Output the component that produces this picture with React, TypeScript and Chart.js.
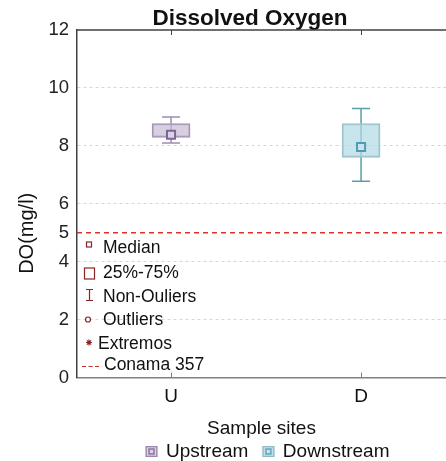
import React, { useEffect, useRef } from "react";
import { Chart, registerables } from "chart.js";
Chart.register(...registerables);

const categories = ["U", "D"];
const seriesNames = ["Upstream", "Downstream"];
const medians = [8.38, 7.96];
const q1 = [8.29, 7.6];
const q3 = [8.77, 8.77];
const whiskerLow = [8.1, 6.78];
const whiskerHigh = [9.0, 9.29];
const yTicks = [0, 2, 4, 5, 6, 8, 10, 12];
const conamaLimit = 5;
const innerLegendLabels = ["Median", "25%-75%", "Non-Ouliers", "Outliers", "Extremos", "Conama 357"];

const FONT = '"Liberation Sans", Arial, sans-serif';
const boxFills = ["rgba(201,186,214,0.7)", "rgba(176,216,228,0.7)"];
const swatchFills = ["#dcd3e4", "#c8e4ec"];
const boxBorders = ["#a395b4", "#a0c2ca"];
const whiskerColors = ["#9d8db0", "#5d9dab"];
const medianBorders = ["#7b6797", "#4f9cb1"];
const symbolColor = "#8b2525";

const makeSwatch = (i: number) => {
  const c = document.createElement("canvas");
  c.width = 26;
  c.height = 13;
  const g = c.getContext("2d")!;
  g.fillStyle = swatchFills[i];
  g.fillRect(13.5, 1, 12, 11);
  g.strokeStyle = i === 0 ? "#9a88b0" : "#8fb8c2";
  g.lineWidth = 1.3;
  g.strokeRect(14.15, 1.65, 10.7, 9.7);
  g.strokeStyle = medianBorders[i];
  g.lineWidth = 1.3;
  g.strokeRect(17, 4, 5, 5);
  return c;
};

const framePlugin = {
  id: "frame",
  afterDatasetsDraw(chart: any) {
    const { ctx, chartArea: a, scales } = chart;
    const xs = scales.x;
    const ys = scales.y;
    ctx.save();
    // Conama limit line
    const yc = ys.getPixelForValue(conamaLimit);
    ctx.strokeStyle = "#e0302a";
    ctx.lineWidth = 1.5;
    ctx.setLineDash([5, 4]);
    ctx.beginPath();
    ctx.moveTo(a.left, yc);
    ctx.lineTo(a.right, yc);
    ctx.stroke();
    ctx.setLineDash([]);
    // top frame line
    ctx.strokeStyle = "#404040";
    ctx.lineWidth = 1.5;
    ctx.beginPath();
    ctx.moveTo(a.left, a.top);
    ctx.lineTo(a.right, a.top);
    ctx.stroke();
    // inward tick marks
    categories.forEach((_, i) => {
      const px = Math.round(xs.getPixelForValue(i + 1)) + 0.5;
      ctx.lineWidth = 1;
      ctx.strokeStyle = "#404040";
      ctx.beginPath();
      ctx.moveTo(px, a.top);
      ctx.lineTo(px, a.top + 5);
      ctx.stroke();
      ctx.strokeStyle = "#808080";
      ctx.beginPath();
      ctx.moveTo(px, a.bottom);
      ctx.lineTo(px, a.bottom - 5);
      ctx.stroke();
    });
    // inner legend
    const rowOffsets = [129, 104, 80, 57, 33, 12];
    const sx = a.left + 12;
    ctx.font = `17.5px ${FONT}`;
    ctx.textBaseline = "middle";
    ctx.textAlign = "left";
    innerLegendLabels.forEach((label, k) => {
      const ry = a.bottom - rowOffsets[k];
      ctx.strokeStyle = symbolColor;
      ctx.fillStyle = symbolColor;
      ctx.lineWidth = 1.2;
      let tx = a.left + 26;
      if (k === 0) {
        ctx.strokeRect(sx - 2.5, ry - 6.5, 5, 5);
      } else if (k === 1) {
        ctx.strokeRect(sx - 4.5, ry - 5.5, 10, 11);
      } else if (k === 2) {
        ctx.beginPath();
        ctx.moveTo(sx + 0.5, ry - 8);
        ctx.lineTo(sx + 0.5, ry + 3);
        ctx.moveTo(sx - 3, ry - 8);
        ctx.lineTo(sx + 4, ry - 8);
        ctx.moveTo(sx - 3, ry + 3);
        ctx.lineTo(sx + 4, ry + 3);
        ctx.stroke();
      } else if (k === 3) {
        ctx.beginPath();
        ctx.arc(sx - 1, ry - 1, 2.5, 0, Math.PI * 2);
        ctx.stroke();
      } else if (k === 4) {
        ctx.beginPath();
        for (let j = 0; j < 4; j++) {
          const ang = (j * Math.PI) / 4;
          ctx.moveTo(sx - Math.cos(ang) * 3, ry - 2 - Math.sin(ang) * 3);
          ctx.lineTo(sx + Math.cos(ang) * 3, ry - 2 + Math.sin(ang) * 3);
        }
        ctx.stroke();
        tx = a.left + 21;
      } else {
        ctx.strokeStyle = "#c0302a";
        ctx.setLineDash([4, 2.5]);
        ctx.beginPath();
        ctx.moveTo(a.left + 5, ry + 1);
        ctx.lineTo(a.left + 23, ry + 1);
        ctx.stroke();
        ctx.setLineDash([]);
        tx = a.left + 27;
      }
      ctx.fillStyle = "#111";
      ctx.fillText(label, tx, ry);
    });
    // y-axis title
    ctx.save();
    ctx.translate(27, a.top + (a.bottom - a.top) * 0.585);
    ctx.rotate(-Math.PI / 2);
    ctx.font = `20px ${FONT}`;
    ctx.textAlign = "center";
    ctx.fillStyle = "#111";
    ctx.fillText("DO(mg/l)", 0, 0);
    ctx.restore();
    ctx.restore();
  },
};

export default function App() {
  const ref = useRef<HTMLCanvasElement>(null);
  useEffect(() => {
    const canvas = ref.current!;
    const swatches = seriesNames.map((_, i) => makeSwatch(i));
    const datasets: any[] = [
      {
        type: "bar",
        label: "box",
        data: categories.map((_, i) => ({ x: i + 1, y: [q1[i], q3[i]] })),
        backgroundColor: boxFills,
        borderColor: boxBorders,
        borderWidth: 1.5,
        borderSkipped: false,
        barThickness: 38,
        order: 2,
      },
      ...categories.map((_, i) => ({
        type: "scatter",
        label: "whisker" + i,
        data: [
          { x: i + 1, y: whiskerLow[i] },
          { x: i + 1, y: whiskerHigh[i] },
        ],
        showLine: true,
        borderColor: whiskerColors[i],
        borderWidth: 1.5,
        pointRadius: 0,
        order: 3,
      })),
      {
        type: "scatter",
        label: "caps",
        data: categories.flatMap((_, i) => [
          { x: i + 1, y: whiskerLow[i] },
          { x: i + 1, y: whiskerHigh[i] },
        ]),
        pointStyle: "line",
        pointRadius: 9,
        pointBorderColor: categories.flatMap((_, i) => [whiskerColors[i], whiskerColors[i]]),
        pointBorderWidth: 1.5,
        order: 2,
      },
      {
        type: "scatter",
        label: "median",
        data: categories.map((_, i) => ({ x: i + 1, y: medians[i] })),
        pointStyle: "rect",
        pointRadius: 5.7,
        pointBackgroundColor: swatchFills,
        pointBorderColor: medianBorders,
        pointBorderWidth: 2,
        order: 1,
      },
    ];
    const chart = new Chart(canvas, {
      type: "bar",
      data: { datasets },
      options: {
        animation: false,
        responsive: false,
        events: [],
        layout: { padding: 0 },
        plugins: {
          title: {
            display: true,
            text: "Dissolved Oxygen",
            font: { family: FONT, size: 22.5, weight: "bold", lineHeight: 1 },
            color: "#111",
            padding: { top: 7.25, bottom: 0.25 },
          },
          legend: {
            position: "bottom",
            fullSize: false,
            labels: {
              usePointStyle: true,
              pointStyleWidth: 23,
              padding: 2,
              font: { family: FONT, size: 19 },
              color: "#111",
              generateLabels: () =>
                seriesNames.map((name, i) => ({
                  text: name,
                  pointStyle: swatches[i],
                  fillStyle: swatchFills[i],
                  strokeStyle: boxBorders[i],
                  lineWidth: 0,
                  hidden: false,
                  datasetIndex: 0,
                  fontColor: "#111",
                })),
            },
          },
          tooltip: { enabled: false },
        },
        scales: {
          x: {
            type: "linear",
            offset: false,
            min: 0.505,
            max: 2.447,
            afterBuildTicks: (s: any) => {
              s.ticks = categories.map((_, i) => ({ value: i + 1 }));
            },
            ticks: {
              callback: (v: any) => categories[Number(v) - 1] ?? "",
              font: { family: FONT, size: 19 },
              color: "#111",
              padding: 8,
              autoSkip: false,
              maxRotation: 0,
            },
            grid: { display: false, drawTicks: false },
            border: { display: true, color: "#808080", width: 1.5 },
            title: {
              display: true,
              text: "Sample sites",
              font: { family: FONT, size: 19 },
              color: "#111",
              padding: { top: 0.9, bottom: 0 },
            },
          },
          y: {
            type: "linear",
            min: 0,
            max: 12,
            afterBuildTicks: (s: any) => {
              s.ticks = yTicks.map((v) => ({ value: v }));
            },
            afterFit: (s: any) => {
              s.width = 77;
            },
            ticks: {
              font: { family: FONT, size: 18.5 },
              color: "#222",
              padding: 8,
            },
            grid: {
              drawTicks: false,
              lineWidth: 1,
              color: (c: any) =>
                c.tick && [0, 5, 12].includes(c.tick.value) ? "rgba(0,0,0,0)" : "#d6d6d6",
            },
            border: { display: true, color: "#404040", width: 1.5, dash: [3, 3] },
          },
          yr: {
            type: "linear",
            position: "right",
            min: 0,
            max: 12,
            ticks: { display: false },
            grid: { display: false, drawOnChartArea: false, drawTicks: false },
            border: { display: false },
            afterFit: (s: any) => {
              s.width = 54;
            },
          },
        },
      },
      plugins: [framePlugin],
    });
    return () => chart.destroy();
  }, []);
  return (
    <div
      style={{
        position: "fixed",
        left: 0,
        top: 0,
        width: 446,
        height: 461,
        overflow: "hidden",
        background: "#fff",
      }}
    >
      <canvas ref={ref} width={500} height={471} style={{ display: "block" }} />
    </div>
  );
}
